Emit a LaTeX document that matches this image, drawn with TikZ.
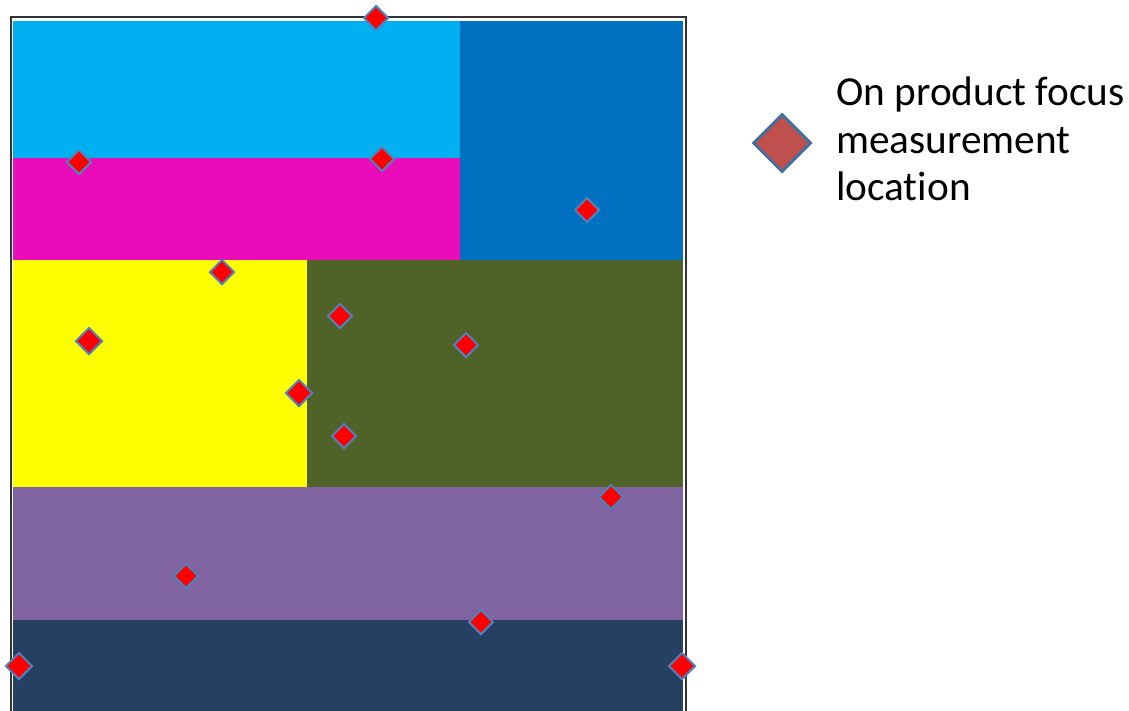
\documentclass[tikz,border=0pt]{standalone}
\usepackage{fontspec}
\setmainfont[Ligatures=NoCommon]{Carlito}
\usetikzlibrary{shapes.geometric}
\definecolor{cCyan}{HTML}{00B0F0}
\definecolor{cBlue}{HTML}{0070C0}
\definecolor{cMag}{HTML}{EA0BB9}
\definecolor{cYel}{HTML}{FFFF00}
\definecolor{cOlive}{HTML}{4F6228}
\definecolor{cPurp}{HTML}{8064A2}
\definecolor{cNavy}{HTML}{254061}
\definecolor{cEdge}{HTML}{4F81BD}
\definecolor{cLegFill}{HTML}{C0504D}
\definecolor{cLegEdge}{HTML}{41719C}
\tikzset{
  region/.style={fill=#1, draw=none},
  mpoint/.style={shape=diamond, aspect=1, minimum size=25pt, inner sep=0pt, fill=red, draw=cEdge, line width=2pt},
  legpoint/.style={shape=diamond, aspect=1, minimum size=58pt, inner sep=0pt, fill=cLegFill, draw=cLegEdge, line width=3pt},
  legtext/.style={anchor=base west, inner sep=0pt, font=\fontsize{41.3}{48}\selectfont}
}
\begin{document}
\begin{tikzpicture}[x=1pt, y=-1pt]
\useasboundingbox (0,0) rectangle (1129,710);
% frame
\draw[black!80, line width=1.3pt] (11,17) rectangle (686,715);
% regions
\fill[region=cCyan] (13,21) rectangle (460,158);
\fill[region=cBlue] (460,21) rectangle (683,260);
\fill[region=cMag] (13,158) rectangle (460,260);
\fill[region=cYel] (13,260) rectangle (307,487);
\fill[region=cOlive] (307,260) rectangle (683,487);
\fill[region=cPurp] (13,487) rectangle (683,620);
\fill[region=cNavy] (13,620) rectangle (683,712);
% measurement points
\node[mpoint] (p1) at (376,18) {};
\node[mpoint] (p2) at (79,162) {};
\node[mpoint] (p3) at (382,159) {};
\node[mpoint] (p4) at (587,210) {};
\node[mpoint] (p5) at (222,272) {};
\node[mpoint, minimum size=27pt] (p6) at (89,341) {};
\node[mpoint] (p7) at (340,316) {};
\node[mpoint] (p8) at (466,345) {};
\node[mpoint, minimum size=27pt] (p9) at (299,393) {};
\node[mpoint] (p10) at (344,436) {};
\node[mpoint] (p11) at (611,497) {};
\node[mpoint] (p12) at (186,576) {};
\node[mpoint] (p13) at (481,622) {};
\node[mpoint, minimum size=27pt] (p14) at (19,666) {};
\node[mpoint, minimum size=27pt] (p15) at (682,666) {};
% legend
\node[legpoint] (leg) at (782,143) {};
\node[legtext] (l1) at (836,105) {On product focus};
\node[legtext] (l2) at (836,153) {measurement};
\node[legtext] (l3) at (836,200) {location};
\end{tikzpicture}
\end{document}
